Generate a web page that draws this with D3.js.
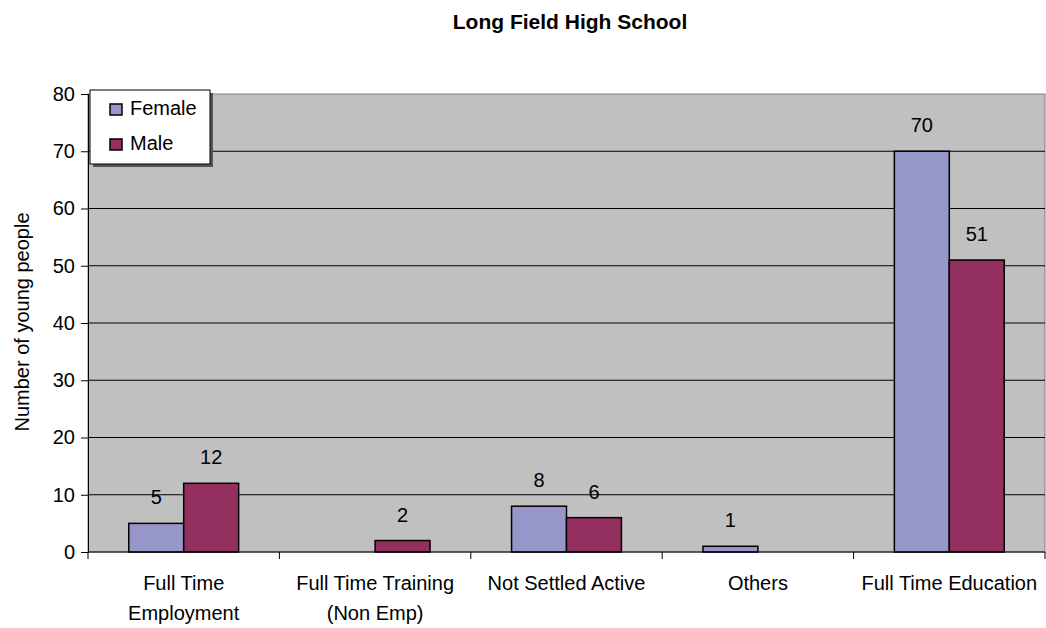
<!DOCTYPE html>
<html>
<head>
<meta charset="utf-8">
<script src="https://cdn.jsdelivr.net/npm/d3@7"></script>
<style>
  body { margin: 0; background: #fff; }
  text { font-family: "Liberation Sans", Arial, sans-serif; }
</style>
</head>
<body>
<div id="chart"></div>
<script>
// chart data
var categories = [["Full Time", "Employment"], ["Full Time Training", "(Non Emp)"], ["Not Settled Active"], ["Others"], ["Full Time Education"]];
var female = [5, 0, 8, 1, 70];
var male = [12, 2, 6, 0, 51];
var seriesNames = ["Female", "Male"];
var yTicks = [0, 10, 20, 30, 40, 50, 60, 70, 80];

var colors = ["#9696C8", "#943060"];
var fs = "20px";

var margin = { top: 94, right: 1, bottom: 76, left: 88 };
var W = 1046, H = 628;
var width = W - margin.left - margin.right;
var height = H - margin.top - margin.bottom;

var svg = d3.select("#chart").append("svg")
  .attr("width", W).attr("height", H);

svg.append("text")
  .attr("x", 570).attr("y", 29)
  .attr("text-anchor", "middle")
  .style("font-size", "21px").style("font-weight", "bold")
  .text("Long Field High School");

var g = svg.append("g").attr("transform", "translate(" + margin.left + "," + margin.top + ")");

var keys = categories.map(function (d, i) { return i; });
var x = d3.scaleBand().domain(keys).range([0, width]).paddingInner(0).paddingOuter(0);
var y = d3.scaleLinear().domain([0, 80]).range([height, 0]);
var barW = x.bandwidth() * 0.287;

// plot background
g.append("rect").attr("width", width).attr("height", height)
  .attr("fill", "#C0C0C0").attr("stroke", "#808080").attr("stroke-width", 1);

// gridlines
g.selectAll(".grid").data(yTicks.filter(function (d) { return d > 0 && d < 80; }))
  .enter().append("line")
  .attr("x1", 0).attr("x2", width)
  .attr("y1", function (d) { return y(d); }).attr("y2", function (d) { return y(d); })
  .attr("stroke", "#000").attr("stroke-width", 1);

// bars + value labels (zero values are not drawn)
var rows = categories.map(function (c, i) { return { i: i, vals: [female[i], male[i]] }; });
var grp = g.selectAll(".cat").data(rows).enter().append("g")
  .attr("transform", function (d) { return "translate(" + (x(d.i) + x.bandwidth() / 2 - barW) + ",0)"; });

grp.each(function (d) {
  var gg = d3.select(this);
  d.vals.forEach(function (v, j) {
    if (v <= 0) return;
    gg.append("rect")
      .attr("x", j * barW).attr("y", y(v))
      .attr("width", barW).attr("height", height - y(v))
      .attr("fill", colors[j]).attr("stroke", "#000").attr("stroke-width", 1.5);
    gg.append("text")
      .attr("x", j * barW + barW / 2).attr("y", y(v) - 19)
      .attr("text-anchor", "middle")
      .style("font-size", fs)
      .text(v);
  });
});

// y axis
var yAxis = g.append("g")
  .call(d3.axisLeft(y).tickValues(yTicks).tickSize(7).tickPadding(6));
yAxis.select(".domain").attr("stroke", "#000");
yAxis.selectAll("text").style("font-size", fs).attr("fill", "#000")
  .style("font-family", "'Liberation Sans', Arial, sans-serif");

// x axis
var xAxis = g.append("g").attr("transform", "translate(0," + height + ")");
xAxis.append("line").attr("x1", 0).attr("x2", width).attr("stroke", "#000");
d3.range(categories.length + 1).forEach(function (k) {
  var xx = k < categories.length ? x(k) : width;
  xAxis.append("line").attr("x1", xx).attr("x2", xx).attr("y1", 0).attr("y2", 7).attr("stroke", "#000");
});
categories.forEach(function (lines, i) {
  var t = xAxis.append("text")
    .attr("x", x(i) + x.bandwidth() / 2).attr("y", 38)
    .attr("text-anchor", "middle").style("font-size", fs);
  lines.forEach(function (l, k) {
    t.append("tspan").attr("x", x(i) + x.bandwidth() / 2).attr("dy", k === 0 ? 0 : 30).text(l);
  });
});

// y title
svg.append("text")
  .attr("transform", "translate(29," + 322 + ") rotate(-90)")
  .attr("text-anchor", "middle").style("font-size", fs)
  .text("Number of young people");

// legend
var lg = svg.append("g").attr("transform", "translate(90,90)");
lg.append("rect").attr("x", 3).attr("y", 3).attr("width", 120).attr("height", 74).attr("fill", "#555");
lg.append("rect").attr("width", 120).attr("height", 74).attr("fill", "#fff").attr("stroke", "#000");
seriesNames.forEach(function (n, i) {
  lg.append("rect").attr("x", 20).attr("y", 14 + i * 35).attr("width", 12).attr("height", 11)
    .attr("fill", colors[i]).attr("stroke", "#000").attr("stroke-width", 1.5);
  lg.append("text").attr("x", 40).attr("y", 25 + i * 35).style("font-size", fs).text(n);
});
</script>
</body>
</html>
